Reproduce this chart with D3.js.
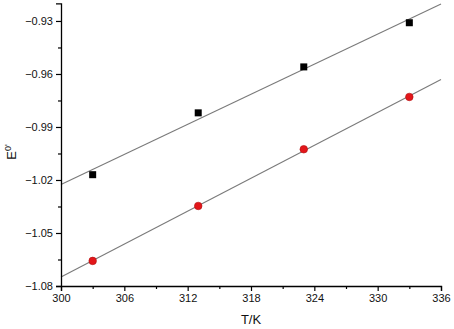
<!DOCTYPE html>
<html>
<head>
<meta charset="utf-8">
<script src="https://cdn.jsdelivr.net/npm/d3@7"></script>
<style>
  body { margin: 0; background: #fff; }
  text { font-family: "Liberation Sans", Arial, sans-serif; }
</style>
</head>
<body>
<svg id="chart" width="454" height="329"></svg>
<script>
const temps = [303, 313, 323, 333];
const squareE = [-1.017, -0.982, -0.956, -0.931];
const circleE = [-1.0658, -1.0347, -1.0026, -0.973];
const xTicks = [300, 306, 312, 318, 324, 330, 336];
const yTicks = [-1.08, -1.05, -1.02, -0.99, -0.96, -0.93];

const svg = d3.select("#chart");

const x = d3.scaleLinear().domain([300, 336]).range([61, 441]);
const y = d3.scaleLinear().domain([-1.08, -0.92]).range([286, 3.3]);

// least squares fit line over the axis range
function fit(xs, ys) {
  const mx = d3.mean(xs), my = d3.mean(ys);
  const b = d3.sum(xs, (v, i) => (v - mx) * (ys[i] - my)) / d3.sum(xs, v => (v - mx) ** 2);
  const a = my - b * mx;
  return [300, 336].map(t => [t, a + b * t]);
}

const line = d3.line().x(d => x(d[0])).y(d => y(d[1]));

[squareE, circleE].forEach(vals => {
  svg.append("path")
    .attr("d", line(fit(temps, vals)))
    .attr("fill", "none")
    .attr("stroke", "#7a7a7a")
    .attr("stroke-width", 1.1);
});

// axes
const xMinor = d3.range(303, 336, 6);
const yMinor = d3.range(-1.065, -0.93, 0.03);

const gx = svg.append("g").attr("transform", "translate(0,286)");
gx.call(d3.axisBottom(x).tickValues(xTicks).tickSize(5).tickPadding(3).tickFormat(d3.format("d")));
gx.append("g").call(d3.axisBottom(x).tickValues(xMinor).tickSize(3).tickFormat(""))
  .select(".domain").remove();

const gy = svg.append("g").attr("transform", "translate(61,0)");
gy.call(d3.axisLeft(y).tickValues(yTicks).tickSize(5).tickPadding(3).tickFormat(d3.format(".2f")));
gy.append("g").call(d3.axisLeft(y).tickValues(yMinor).tickSize(3).tickFormat(""))
  .select(".domain").remove();

svg.selectAll(".domain").attr("stroke", "#000").attr("stroke-width", 1.3);
svg.selectAll(".tick line").attr("stroke", "#000").attr("stroke-width", 1.2);
svg.selectAll(".tick text")
  .attr("fill", "#111")
  .style("font-size", "11px")
  .style("font-family", "'Liberation Sans', Arial, sans-serif");

// markers
svg.selectAll(".sq")
  .data(temps)
  .join("rect")
    .attr("class", "sq")
    .attr("x", (d) => x(d) - 3.5)
    .attr("y", (d, i) => y(squareE[i]) - 3.5)
    .attr("width", 7)
    .attr("height", 7)
    .attr("fill", "#000");

svg.selectAll(".dot")
  .data(temps)
  .join("circle")
    .attr("class", "dot")
    .attr("cx", d => x(d))
    .attr("cy", (d, i) => y(circleE[i]))
    .attr("r", 3.8)
    .attr("fill", "#e3161a")
    .attr("stroke", "#b01010")
    .attr("stroke-width", 0.6);

// axis titles
svg.append("text")
  .attr("x", 251)
  .attr("y", 324)
  .attr("text-anchor", "middle")
  .style("font-size", "13px")
  .attr("fill", "#111")
  .text("T/K");

const yl = svg.append("text")
  .attr("transform", "translate(16,152) rotate(-90)")
  .attr("text-anchor", "middle")
  .style("font-size", "13px")
  .attr("fill", "#111");
yl.append("tspan").text("E");
yl.append("tspan").attr("dy", -5).style("font-size", "9px").text("0'");
</script>
</body>
</html>
